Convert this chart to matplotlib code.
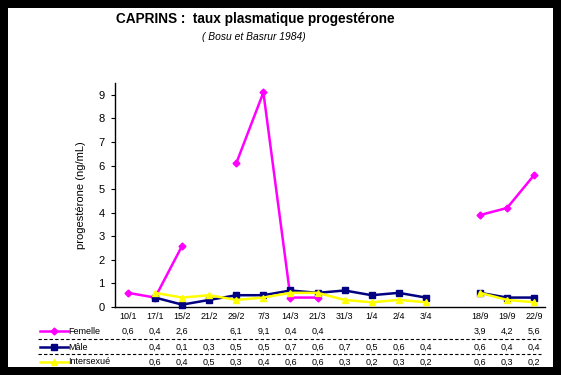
import matplotlib
matplotlib.use("Agg")
import matplotlib.pyplot as plt
import matplotlib.transforms as mtransforms
from matplotlib.lines import Line2D
import numpy as np

categories = ["10/1", "17/1", "15/2", "21/2", "29/2", "7/3", "14/3", "21/3", "31/3",
              "1/4", "2/4", "3/4", "", "18/9", "19/9", "22/9"]
femelle = [0.6, 0.4, 2.6, None, 6.1, 9.1, 0.4, 0.4, None, None, None, None, None, 3.9, 4.2, 5.6]
male = [None, 0.4, 0.1, 0.3, 0.5, 0.5, 0.7, 0.6, 0.7, 0.5, 0.6, 0.4, None, 0.6, 0.4, 0.4]
intersexue = [None, 0.6, 0.4, 0.5, 0.3, 0.4, 0.6, 0.6, 0.3, 0.2, 0.3, 0.2, None, 0.6, 0.3, 0.2]
series_names = ["Femelle", "Mâle", "Intersexué"]
yticks = list(range(0, 10))

W, H = 561, 375
plt.rcParams['font.family'] = ['Liberation Sans', 'DejaVu Sans']
fig = plt.figure(figsize=(W / 100, H / 100), dpi=100, facecolor="black")

# white panel
bg = fig.add_axes([8 / W, 8 / H, (553 - 8) / W, (367 - 8) / H], zorder=-10)
bg.set_facecolor("white")
bg.set_xticks([]); bg.set_yticks([])
for s in bg.spines.values():
    s.set_visible(False)

ax = fig.add_axes([115 / W, 1 - 307 / H, (545 - 115) / W, (307 - 83) / H], zorder=1)
ax.set_facecolor("none")
x = np.arange(len(categories))

styles = [
    dict(color="#FF00FF", marker="D", ms=3.5),
    dict(color="#000080", marker="s", ms=4.5),
    dict(color="#FFFF00", marker="^", ms=5),
]
data = [femelle, male, intersexue]
for vals, st in zip(data, styles):
    y = np.array([np.nan if v is None else v for v in vals], dtype=float)
    ax.plot(x, y, color=st["color"], lw=1.8, marker=st["marker"], ms=st["ms"],
            mfc=st["color"], mec=st["color"], zorder=3, clip_on=False)

ax.set_xlim(-0.48, 15.4)
ax.set_ylim(0, 9.5)
ax.set_yticks(yticks)
ax.set_yticklabels([str(t) for t in yticks], fontsize=8)
ax.set_xticks(x)
ax.set_xticklabels(categories, fontsize=6.5)
ax.tick_params(axis="x", length=0, pad=3.5)
ax.tick_params(axis="y", length=3, width=0.8, pad=4.5)
for s in ["top", "right"]:
    ax.spines[s].set_visible(False)
ax.spines["left"].set_linewidth(1)
ax.spines["bottom"].set_linewidth(1)
ax.set_ylabel("progestérone (ng/mL)", fontsize=8, labelpad=9)

fig.text(255 / W, 1 - 19 / H, "CAPRINS :  taux plasmatique progestérone",
         ha="center", va="center", fontsize=9.8, fontweight="bold")
fig.text(254 / W, 1 - 37 / H, "( Bosu et Basrur 1984)", ha="center", va="center",
         fontsize=7.4, style="italic")

# data table below
trans = mtransforms.blended_transform_factory(ax.transData, fig.transFigure)
row_y = [331, 347, 362]
for vals, st, name, ry in zip(data, styles, series_names, row_y):
    yf = 1 - ry / H
    fig.lines.append(Line2D([40 / W, 68 / W], [yf, yf], transform=fig.transFigure,
                            color=st["color"], lw=1.8))
    fig.lines.append(Line2D([54 / W], [yf], transform=fig.transFigure,
                            color=st["color"], marker=st["marker"], ms=st["ms"],
                            mfc=st["color"], mec=st["color"]))
    fig.text(68 / W, yf, name, ha="left", va="center", fontsize=6.5)
    for xi, v in zip(x, vals):
        if v is not None:
            ax.text(xi, yf, f"{v:.1f}".replace(".", ","), transform=trans,
                    ha="center", va="center", fontsize=6.5, clip_on=False)

for ly in [339, 354]:
    fig.lines.append(Line2D([38 / W, 541 / W], [1 - ly / H, 1 - ly / H],
                            transform=fig.transFigure, color="black", lw=0.8,
                            ls=(0, (3, 2))))

fig.savefig("out.png", dpi=100, facecolor="black")
